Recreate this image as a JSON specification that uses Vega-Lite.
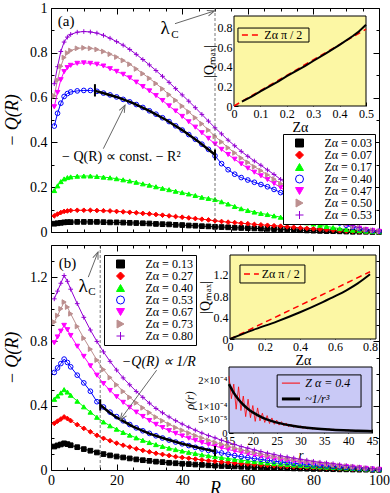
{
"$schema":"https://vega.github.io/schema/vega-lite/v6.json",
"background":"white",
"padding":{"left":3,"top":0,"right":0,"bottom":3},
"config":{
 "font":"Liberation Serif",
 "view":{"stroke":"black","strokeWidth":1},
 "axis":{"labelFont":"Liberation Serif","titleFont":"Liberation Serif","labelColor":"black","titleColor":"black","tickColor":"black","titleFontWeight":"normal","grid":false,"domain":false,"labelFlush":false,"labelOverlap":false,"tickSize":-6,"labelPadding":10,"labelFontSize":14,"zindex":1},
 "legend":{"labelFont":"Liberation Serif"},
 "text":{"font":"Liberation Serif","color":"black"}
},
"datasets":{
 "topMain":[
  {"R":1,"a":0.037,"b":0.072,"c":0.185,"d":0.473,"e":0.559,"f":0.608,"g":0.662},
  {"R":2,"a":0.039,"b":0.080,"c":0.206,"d":0.530,"e":0.623,"f":0.678,"g":0.738},
  {"R":3,"a":0.041,"b":0.087,"c":0.225,"d":0.575,"e":0.680,"f":0.740,"g":0.806},
  {"R":4,"a":0.043,"b":0.092,"c":0.237,"d":0.605,"e":0.716,"f":0.779,"g":0.848},
  {"R":5,"a":0.044,"b":0.094,"c":0.243,"d":0.618,"e":0.734,"f":0.799,"g":0.870},
  {"R":6,"a":0.044,"b":0.096,"c":0.246,"d":0.625,"e":0.744,"f":0.810,"g":0.882},
  {"R":8,"a":0.045,"b":0.097,"c":0.249,"d":0.630,"e":0.753,"f":0.820,"g":0.892},
  {"R":10,"a":0.045,"b":0.097,"c":0.250,"d":0.632,"e":0.755,"f":0.822,"g":0.895},
  {"R":12,"a":0.045,"b":0.097,"c":0.250,"d":0.632,"e":0.753,"f":0.820,"g":0.893},
  {"R":14,"a":0.045,"b":0.096,"c":0.248,"d":0.628,"e":0.749,"f":0.815,"g":0.888},
  {"R":16,"a":0.044,"b":0.095,"c":0.245,"d":0.620,"e":0.741,"f":0.806,"g":0.878},
  {"R":18,"a":0.043,"b":0.094,"c":0.242,"d":0.612,"e":0.729,"f":0.794,"g":0.865},
  {"R":20,"a":0.043,"b":0.092,"c":0.238,"d":0.603,"e":0.717,"f":0.781,"g":0.850},
  {"R":22,"a":0.042,"b":0.090,"c":0.233,"d":0.592,"e":0.704,"f":0.766,"g":0.834},
  {"R":24,"a":0.041,"b":0.088,"c":0.228,"d":0.581,"e":0.688,"f":0.749,"g":0.815},
  {"R":26,"a":0.040,"b":0.086,"c":0.222,"d":0.569,"e":0.669,"f":0.728,"g":0.793},
  {"R":28,"a":0.039,"b":0.083,"c":0.215,"d":0.556,"e":0.649,"f":0.707,"g":0.770},
  {"R":30,"a":0.038,"b":0.081,"c":0.209,"d":0.541,"e":0.630,"f":0.686,"g":0.746},
  {"R":32,"a":0.036,"b":0.078,"c":0.202,"d":0.526,"e":0.609,"f":0.663,"g":0.721},
  {"R":34,"a":0.035,"b":0.075,"c":0.195,"d":0.510,"e":0.587,"f":0.639,"g":0.695},
  {"R":36,"a":0.034,"b":0.072,"c":0.189,"d":0.493,"e":0.563,"f":0.613,"g":0.668},
  {"R":38,"a":0.032,"b":0.069,"c":0.182,"d":0.474,"e":0.540,"f":0.588,"g":0.640},
  {"R":40,"a":0.031,"b":0.066,"c":0.176,"d":0.455,"e":0.516,"f":0.562,"g":0.612},
  {"R":42,"a":0.029,"b":0.063,"c":0.170,"d":0.435,"e":0.492,"f":0.536,"g":0.584},
  {"R":44,"a":0.028,"b":0.060,"c":0.163,"d":0.414,"e":0.468,"f":0.510,"g":0.555},
  {"R":46,"a":0.026,"b":0.057,"c":0.155,"d":0.392,"e":0.443,"f":0.483,"g":0.525},
  {"R":48,"a":0.025,"b":0.054,"c":0.150,"d":0.369,"e":0.418,"f":0.455,"g":0.495},
  {"R":50,"a":0.023,"b":0.050,"c":0.145,"d":0.340,"e":0.393,"f":0.427,"g":0.465},
  {"R":52,"a":0.022,"b":0.047,"c":0.135,"d":0.305,"e":0.369,"f":0.402,"g":0.438},
  {"R":54,"a":0.021,"b":0.044,"c":0.125,"d":0.278,"e":0.346,"f":0.376,"g":0.410},
  {"R":56,"a":0.019,"b":0.042,"c":0.114,"d":0.258,"e":0.325,"f":0.353,"g":0.385},
  {"R":58,"a":0.018,"b":0.039,"c":0.104,"d":0.243,"e":0.304,"f":0.330,"g":0.360},
  {"R":60,"a":0.017,"b":0.037,"c":0.096,"d":0.232,"e":0.285,"f":0.311,"g":0.338},
  {"R":62,"a":0.016,"b":0.034,"c":0.089,"d":0.222,"e":0.267,"f":0.291,"g":0.317},
  {"R":64,"a":0.015,"b":0.032,"c":0.083,"d":0.212,"e":0.251,"f":0.274,"g":0.298},
  {"R":66,"a":0.014,"b":0.030,"c":0.078,"d":0.202,"e":0.234,"f":0.255,"g":0.277},
  {"R":68,"a":0.013,"b":0.028,"c":0.072,"d":0.190,"e":0.217,"f":0.236,"g":0.257},
  {"R":70,"a":0.012,"b":0.026,"c":0.066,"d":0.176,"e":0.199,"f":0.216,"g":0.235},
  {"R":72,"a":0.011,"b":0.023,"c":0.059,"d":0.160,"e":0.179,"f":0.195,"g":0.212},
  {"R":74,"a":0.010,"b":0.021,"c":0.053,"d":0.143,"e":0.160,"f":0.174,"g":0.190},
  {"R":76,"a":0.008,"b":0.018,"c":0.047,"d":0.126,"e":0.142,"f":0.155,"g":0.168},
  {"R":78,"a":0.007,"b":0.016,"c":0.041,"d":0.109,"e":0.124,"f":0.135,"g":0.147},
  {"R":80,"a":0.006,"b":0.014,"c":0.036,"d":0.093,"e":0.107,"f":0.117,"g":0.127},
  {"R":82,"a":0.005,"b":0.012,"c":0.030,"d":0.078,"e":0.091,"f":0.099,"g":0.107},
  {"R":84,"a":0.004,"b":0.010,"c":0.025,"d":0.064,"e":0.074,"f":0.081,"g":0.088},
  {"R":86,"a":0.004,"b":0.008,"c":0.020,"d":0.051,"e":0.059,"f":0.064,"g":0.070},
  {"R":88,"a":0.003,"b":0.006,"c":0.015,"d":0.040,"e":0.045,"f":0.049,"g":0.054},
  {"R":90,"a":0.002,"b":0.004,"c":0.011,"d":0.030,"e":0.034,"f":0.037,"g":0.040},
  {"R":92,"a":0.001,"b":0.003,"c":0.008,"d":0.022,"e":0.024,"f":0.026,"g":0.029},
  {"R":94,"a":0.001,"b":0.002,"c":0.006,"d":0.015,"e":0.017,"f":0.018,"g":0.020},
  {"R":96,"a":0.001,"b":0.001,"c":0.004,"d":0.010,"e":0.011,"f":0.012,"g":0.013},
  {"R":98,"a":0.000,"b":0.001,"c":0.002,"d":0.006,"e":0.007,"f":0.007,"g":0.008},
  {"R":100,"a":0.000,"b":0.000,"c":0.001,"d":0.003,"e":0.003,"f":0.003,"g":0.004}
 ],
 "botMain":[
  {"R":1,"h":0.146,"i":0.290,"j":0.440,"k":0.607,"l":0.792,"m":0.920,"n":1.065},
  {"R":2,"h":0.153,"i":0.304,"j":0.460,"k":0.635,"l":0.828,"m":0.961,"n":1.113},
  {"R":3,"h":0.159,"i":0.317,"j":0.480,"k":0.662,"l":0.864,"m":1.003,"n":1.162},
  {"R":4,"h":0.166,"i":0.330,"j":0.500,"k":0.690,"l":0.900,"m":1.045,"n":1.210},
  {"R":5,"h":0.161,"i":0.320,"j":0.485,"k":0.669,"l":0.873,"m":1.014,"n":1.174},
  {"R":6,"h":0.154,"i":0.307,"j":0.465,"k":0.642,"l":0.837,"m":0.972,"n":1.125},
  {"R":8,"h":0.142,"i":0.282,"j":0.428,"k":0.590,"l":0.770,"m":0.893,"n":1.035},
  {"R":10,"h":0.130,"i":0.259,"j":0.393,"k":0.542,"l":0.707,"m":0.820,"n":0.950},
  {"R":12,"h":0.120,"i":0.238,"j":0.360,"k":0.490,"l":0.648,"m":0.752,"n":0.871},
  {"R":14,"h":0.109,"i":0.216,"j":0.328,"k":0.425,"l":0.590,"m":0.684,"n":0.800},
  {"R":16,"h":0.099,"i":0.197,"j":0.299,"k":0.392,"l":0.538,"m":0.625,"n":0.735},
  {"R":18,"h":0.091,"i":0.182,"j":0.275,"k":0.360,"l":0.495,"m":0.575,"n":0.676},
  {"R":20,"h":0.084,"i":0.167,"j":0.254,"k":0.332,"l":0.456,"m":0.530,"n":0.622},
  {"R":22,"h":0.078,"i":0.154,"j":0.234,"k":0.306,"l":0.421,"m":0.489,"n":0.573},
  {"R":24,"h":0.072,"i":0.143,"j":0.217,"k":0.283,"l":0.390,"m":0.452,"n":0.530},
  {"R":26,"h":0.066,"i":0.132,"j":0.200,"k":0.262,"l":0.360,"m":0.418,"n":0.489},
  {"R":28,"h":0.061,"i":0.122,"j":0.185,"k":0.244,"l":0.333,"m":0.387,"n":0.452},
  {"R":30,"h":0.057,"i":0.113,"j":0.171,"k":0.228,"l":0.308,"m":0.357,"n":0.416},
  {"R":32,"h":0.052,"i":0.104,"j":0.158,"k":0.213,"l":0.284,"m":0.329,"n":0.383},
  {"R":34,"h":0.049,"i":0.097,"j":0.147,"k":0.199,"l":0.264,"m":0.306,"n":0.356},
  {"R":36,"h":0.045,"i":0.090,"j":0.136,"k":0.186,"l":0.245,"m":0.284,"n":0.330},
  {"R":38,"h":0.042,"i":0.083,"j":0.127,"k":0.174,"l":0.228,"m":0.264,"n":0.307},
  {"R":40,"h":0.039,"i":0.078,"j":0.118,"k":0.163,"l":0.212,"m":0.247,"n":0.286},
  {"R":42,"h":0.037,"i":0.073,"j":0.110,"k":0.152,"l":0.198,"m":0.230,"n":0.266},
  {"R":44,"h":0.034,"i":0.068,"j":0.103,"k":0.141,"l":0.185,"m":0.214,"n":0.248},
  {"R":46,"h":0.032,"i":0.063,"j":0.095,"k":0.131,"l":0.171,"m":0.199,"n":0.230},
  {"R":48,"h":0.029,"i":0.058,"j":0.089,"k":0.122,"l":0.159,"m":0.185,"n":0.214},
  {"R":50,"h":0.027,"i":0.054,"j":0.083,"k":0.114,"l":0.149,"m":0.172,"n":0.200},
  {"R":52,"h":0.025,"i":0.050,"j":0.077,"k":0.106,"l":0.138,"m":0.160,"n":0.185},
  {"R":54,"h":0.024,"i":0.047,"j":0.071,"k":0.098,"l":0.128,"m":0.148,"n":0.172},
  {"R":56,"h":0.022,"i":0.043,"j":0.066,"k":0.090,"l":0.118,"m":0.137,"n":0.159},
  {"R":58,"h":0.020,"i":0.040,"j":0.061,"k":0.083,"l":0.109,"m":0.126,"n":0.146},
  {"R":60,"h":0.019,"i":0.037,"j":0.056,"k":0.077,"l":0.101,"m":0.117,"n":0.136},
  {"R":62,"h":0.017,"i":0.034,"j":0.052,"k":0.071,"l":0.093,"m":0.108,"n":0.125},
  {"R":64,"h":0.016,"i":0.031,"j":0.048,"k":0.066,"l":0.086,"m":0.099,"n":0.115},
  {"R":66,"h":0.014,"i":0.029,"j":0.044,"k":0.060,"l":0.078,"m":0.091,"n":0.105},
  {"R":68,"h":0.013,"i":0.026,"j":0.040,"k":0.055,"l":0.072,"m":0.084,"n":0.097},
  {"R":70,"h":0.012,"i":0.024,"j":0.037,"k":0.050,"l":0.066,"m":0.076,"n":0.088},
  {"R":72,"h":0.011,"i":0.022,"j":0.034,"k":0.046,"l":0.060,"m":0.070,"n":0.081},
  {"R":74,"h":0.010,"i":0.020,"j":0.031,"k":0.042,"l":0.055,"m":0.064,"n":0.074},
  {"R":76,"h":0.009,"i":0.018,"j":0.028,"k":0.038,"l":0.050,"m":0.057,"n":0.067},
  {"R":78,"h":0.008,"i":0.017,"j":0.025,"k":0.035,"l":0.045,"m":0.052,"n":0.061},
  {"R":80,"h":0.007,"i":0.015,"j":0.023,"k":0.031,"l":0.041,"m":0.047,"n":0.054},
  {"R":82,"h":0.007,"i":0.013,"j":0.020,"k":0.028,"l":0.036,"m":0.042,"n":0.048},
  {"R":84,"h":0.006,"i":0.012,"j":0.018,"k":0.025,"l":0.032,"m":0.038,"n":0.044},
  {"R":86,"h":0.005,"i":0.011,"j":0.016,"k":0.022,"l":0.029,"m":0.033,"n":0.039},
  {"R":88,"h":0.004,"i":0.009,"j":0.014,"k":0.019,"l":0.024,"m":0.028,"n":0.033},
  {"R":90,"h":0.004,"i":0.008,"j":0.012,"k":0.016,"l":0.021,"m":0.024,"n":0.028},
  {"R":92,"h":0.003,"i":0.006,"j":0.010,"k":0.013,"l":0.017,"m":0.020,"n":0.023},
  {"R":94,"h":0.002,"i":0.005,"j":0.008,"k":0.010,"l":0.014,"m":0.016,"n":0.018},
  {"R":96,"h":0.002,"i":0.004,"j":0.006,"k":0.008,"l":0.010,"m":0.011,"n":0.013},
  {"R":98,"h":0.001,"i":0.002,"j":0.004,"k":0.005,"l":0.006,"m":0.007,"n":0.008},
  {"R":100,"h":0.001,"i":0.001,"j":0.002,"k":0.003,"l":0.004,"m":0.004,"n":0.005}
 ],
 "topFit":[{"R":13.4,"q":0.63},{"R":15,"q":0.624},{"R":20,"q":0.603},{"R":25,"q":0.575},{"R":30,"q":0.541},{"R":35,"q":0.501},{"R":40,"q":0.455},{"R":45,"q":0.403},{"R":50,"q":0.345}],
 "botFit":[{"R":15,"q":0.405},{"R":17.5,"q":0.362},{"R":20,"q":0.327},{"R":25,"q":0.27},{"R":30,"q":0.226},{"R":35,"q":0.193},{"R":40,"q":0.163},{"R":45,"q":0.138},{"R":50,"q":0.116}],
 "insetAblack":[{"z":0.03,"v":0.045},{"z":0.07,"v":0.1},{"z":0.1,"v":0.15},{"z":0.17,"v":0.255},{"z":0.2,"v":0.305},{"z":0.27,"v":0.41},{"z":0.3,"v":0.46},{"z":0.35,"v":0.54},{"z":0.4,"v":0.625},{"z":0.45,"v":0.715},{"z":0.47,"v":0.755},{"z":0.5,"v":0.83}],
 "insetAred":[{"z":0,"v":0},{"z":0.5,"v":0.785}],
 "insetB1black":[{"z":0,"v":0},{"z":0.13,"v":0.166},{"z":0.27,"v":0.33},{"z":0.4,"v":0.5},{"z":0.53,"v":0.69},{"z":0.6,"v":0.8},{"z":0.67,"v":0.92},{"z":0.73,"v":1.04},{"z":0.8,"v":1.21}],
 "insetB1red":[{"z":0,"v":0},{"z":0.8,"v":1.257}],
 "insetB2red":[
  {"r":15.0,"p":0.000215},{"r":15.5,"p":0.000130},{"r":16.0,"p":0.000185},{"r":16.5,"p":0.000090},{"r":17.0,"p":0.000175},{"r":17.5,"p":0.000085},
  {"r":18.0,"p":0.000140},{"r":18.5,"p":0.000062},{"r":19.0,"p":0.000128},{"r":19.5,"p":0.000058},{"r":20.0,"p":0.000104},{"r":20.5,"p":0.000044},
  {"r":21.0,"p":0.000095},{"r":21.5,"p":0.000046},{"r":22.0,"p":0.000075},{"r":22.5,"p":0.000040},{"r":23.0,"p":0.000066},{"r":23.5,"p":0.000036},
  {"r":24.0,"p":0.000057},{"r":24.5,"p":0.000033},{"r":25.0,"p":0.000049},{"r":25.5,"p":0.000030},{"r":26.0,"p":0.000043},{"r":26.5,"p":0.000027},
  {"r":27.0,"p":0.000038},{"r":27.5,"p":0.000024},{"r":28.0,"p":0.000033},{"r":28.5,"p":0.000022},{"r":29.0,"p":0.000029},{"r":29.5,"p":0.000020},
  {"r":30.0,"p":0.000026},{"r":30.5,"p":0.000018},{"r":31.0,"p":0.000023},{"r":31.5,"p":0.000016},{"r":32.0,"p":0.000021},{"r":32.5,"p":0.000015},
  {"r":33.0,"p":0.000019},{"r":33.5,"p":0.000014},{"r":34.0,"p":0.000017},{"r":34.5,"p":0.000013},{"r":35.0,"p":0.000016},{"r":35.5,"p":0.000012},
  {"r":36.0,"p":0.000015},{"r":36.5,"p":0.000011},{"r":37.0,"p":0.000014},{"r":37.5,"p":0.000010},{"r":38.0,"p":0.000013},{"r":38.5,"p":0.000009},
  {"r":39.0,"p":0.000012},{"r":39.5,"p":0.0000085},{"r":40.0,"p":0.000011},{"r":40.5,"p":0.000008},{"r":41.0,"p":0.000010},{"r":41.5,"p":0.0000075},
  {"r":42.0,"p":0.0000095},{"r":42.5,"p":0.000007},{"r":43.0,"p":0.000009},{"r":43.5,"p":0.0000065},{"r":44.0,"p":0.0000085},{"r":44.5,"p":0.000006},{"r":45.0,"p":0.000008}
 ],
 "insetB2black":[{"r":15,"p":0.000185},{"r":16,"p":0.000152},{"r":17,"p":0.000127},{"r":18,"p":0.000107},{"r":19,"p":0.000091},{"r":20,"p":0.000078},{"r":22,"p":0.0000586},{"r":24,"p":0.0000451},{"r":26,"p":0.0000355},{"r":28,"p":0.0000284},{"r":30,"p":0.0000231},{"r":33,"p":0.0000174},{"r":36,"p":0.0000134},{"r":39,"p":0.0000105},{"r":42,"p":0.0000084},{"r":45,"p":0.0000069}]
},
"spacing":4,
"resolve":{"scale":{"stroke":"independent","fill":"independent","shape":"independent"},"legend":{"stroke":"independent","fill":"independent","shape":"independent"}},
"vconcat":[
 {"width":328,"height":224,
  "resolve":{"scale":{"x":"independent","y":"independent"}},
  "layer":[
   {"layer":[
     {"data":{"name":"topMain"},"transform":[{"fold":["a","b","c","d","e","f","g"],"as":["s","q"]}],
      "layer":[
       {"mark":{"type":"line","strokeWidth":1},
        "encoding":{
         "x":{"field":"R","type":"quantitative","scale":{"domain":[0,100],"nice":false,"zero":false},"axis":{"values":[0,20,40,60,80,100],"labels":false,"title":null}},
         "y":{"field":"q","type":"quantitative","scale":{"domain":[0,1],"nice":false,"zero":false},"axis":{"values":[0,0.2,0.4,0.6,0.8,1],"format":"~g","title":"− Q(R)","titleFontSize":18,"titleFontStyle":"italic","titleX":-38.5,"titleBaseline":"middle"}},
         "stroke":{"field":"s","type":"nominal","scale":{"domain":["a","b","c","d","e","f","g"],"range":["#000000","#ff0000","#00ff00","#0000ff","#ff00ff","#bc8f8f","#9400d3"]}}
        }},
       {"mark":{"type":"point","size":22,"strokeWidth":1,"opacity":1},
        "encoding":{
         "x":{"field":"R","type":"quantitative"},
         "y":{"field":"q","type":"quantitative"},
         "stroke":{"field":"s","type":"nominal",
           "legend":{"orient":"none","legendX":232,"legendY":126,"title":null,"fillColor":"white","strokeColor":"black","padding":3,"rowPadding":0,"labelFontSize":12,"labelColor":"black","symbolSize":64,"symbolOffset":7.5,"labelOffset":19,"symbolStrokeWidth":1,"symbolOpacity":1,
           "labelExpr":"datum.label=='a'?'Zα = 0.03':datum.label=='b'?'Zα = 0.07':datum.label=='c'?'Zα = 0.17':datum.label=='d'?'Zα = 0.40':datum.label=='e'?'Zα = 0.47':datum.label=='f'?'Zα = 0.50':'Zα = 0.53'"}},
         "fill":{"field":"s","type":"nominal","legend":null,"scale":{"domain":["a","b","c","d","e","f","g"],"range":["#000000","#ff0000","#00ff00","transparent","#ff00ff","#bc8f8f","transparent"]}},
         "shape":{"field":"s","type":"nominal","legend":null,"scale":{"domain":["a","b","c","d","e","f","g"],"range":["square","diamond","triangle-up","circle","triangle-down","triangle-right","M-1,0H1M0,-1V1"]}}
        }}
      ]},
     {"data":{"name":"topFit"},"mark":{"type":"line","color":"black","strokeWidth":2.5},"encoding":{"x":{"field":"R","type":"quantitative"},"y":{"field":"q","type":"quantitative"}}},
     {"data":{"values":[{}]},"mark":{"type":"rule","strokeDash":[3,2],"color":"#555555","strokeWidth":0.8},"encoding":{"x":{"datum":50,"type":"quantitative"}}},
     {"data":{"values":[{}]},"mark":{"type":"rule","color":"black","strokeWidth":2},"encoding":{"x":{"datum":13.4,"type":"quantitative"},"y":{"datum":0.605,"type":"quantitative"},"y2":{"datum":0.66}}},
     {"data":{"values":[{}]},"mark":{"type":"rule","color":"black","strokeWidth":2},"encoding":{"x":{"datum":50,"type":"quantitative"},"y":{"datum":0.32,"type":"quantitative"},"y2":{"datum":0.368}}},
     {"data":{"values":[{}]},"mark":{"type":"text","text":"(a)","fontSize":15,"align":"center","baseline":"middle"},"encoding":{"x":{"datum":4.6,"type":"quantitative"},"y":{"datum":0.942,"type":"quantitative"}}},
     {"data":{"values":[{}]},"mark":{"type":"text","text":"λ","fontSize":19,"align":"center","baseline":"alphabetic"},"encoding":{"x":{"datum":34.8,"type":"quantitative"},"y":{"datum":0.884,"type":"quantitative"}}},
     {"data":{"values":[{}]},"mark":{"type":"text","text":"C","fontSize":11,"align":"center","baseline":"alphabetic"},"encoding":{"x":{"datum":37.8,"type":"quantitative"},"y":{"datum":0.866,"type":"quantitative"}}},
     {"data":{"values":[{}]},"mark":{"type":"rule","color":"#666666","strokeWidth":1},"encoding":{"x":{"datum":37.8,"type":"quantitative"},"y":{"datum":0.93,"type":"quantitative"},"x2":{"datum":49.85},"y2":{"datum":0.987}}},
     {"data":{"values":[{}]},"mark":{"type":"point","shape":"M-0.7,1.8L0,0L0.7,1.8","angle":72,"size":64,"stroke":"#666666","strokeWidth":1,"fill":"transparent","opacity":1},"encoding":{"x":{"datum":49.85,"type":"quantitative"},"y":{"datum":0.987,"type":"quantitative"}}},
     {"data":{"values":[{}]},"mark":{"type":"text","text":"− Q(R) ∝ const. − R²","fontSize":14,"align":"left","baseline":"middle"},"encoding":{"x":{"datum":3.35,"type":"quantitative"},"y":{"datum":0.335,"type":"quantitative"}}},
     {"data":{"values":[{}]},"mark":{"type":"rule","color":"#666666","strokeWidth":1},"encoding":{"x":{"datum":15.95,"type":"quantitative"},"y":{"datum":0.372,"type":"quantitative"},"x2":{"datum":22.56},"y2":{"datum":0.566}}},
     {"data":{"values":[{}]},"mark":{"type":"point","shape":"M-0.7,1.8L0,0L0.7,1.8","angle":26.6,"size":64,"stroke":"#666666","strokeWidth":1,"fill":"transparent","opacity":1},"encoding":{"x":{"datum":22.56,"type":"quantitative"},"y":{"datum":0.566,"type":"quantitative"}}}
   ]},
   {"data":{"values":[{}]},"mark":{"type":"point","opacity":0},"encoding":{
     "x":{"datum":0,"type":"quantitative","scale":{"domain":[0,100],"nice":false,"zero":false},"axis":{"orient":"top","values":[0,20,40,60,80,100],"labels":false,"title":null}},
     "y":{"datum":0,"type":"quantitative","scale":{"domain":[0,1],"nice":false,"zero":false},"axis":{"orient":"right","values":[0,0.2,0.4,0.6,0.8,1],"labels":false,"title":null}}}},
   {"data":{"values":[{}]},"mark":{"type":"point","opacity":0},"encoding":{
     "x":{"datum":0,"type":"quantitative","scale":{"domain":[0,100],"nice":false,"zero":false},"axis":{"orient":"bottom","values":[5,10,15,25,30,35,45,50,55,65,70,75,85,90,95],"labels":false,"title":null,"tickSize":-3}},
     "y":{"datum":0,"type":"quantitative","scale":{"domain":[0,1],"nice":false,"zero":false},"axis":{"orient":"left","values":[0.1,0.3,0.5,0.7,0.9],"labels":false,"title":null,"tickSize":-3}}}},
   {"data":{"values":[{}]},"mark":{"type":"point","opacity":0},"encoding":{
     "x":{"datum":0,"type":"quantitative","scale":{"domain":[0,100],"nice":false,"zero":false},"axis":{"orient":"top","values":[5,10,15,25,30,35,45,50,55,65,70,75,85,90,95],"labels":false,"title":null,"tickSize":-3}},
     "y":{"datum":0,"type":"quantitative","scale":{"domain":[0,1],"nice":false,"zero":false},"axis":{"orient":"right","values":[0.1,0.3,0.5,0.7,0.9],"labels":false,"title":null,"tickSize":-3}}}},
   {"layer":[
     {"data":{"values":[{}]},"mark":{"type":"rect","fill":"#fcf7a4","stroke":"black","strokeWidth":1},
      "encoding":{
       "x":{"datum":0,"type":"quantitative","scale":{"domain":[0,0.5],"range":[183,315],"nice":false,"zero":false},"axis":{"orient":"bottom","offset":-126,"values":[0,0.1,0.2,0.3,0.4,0.5],"format":"~g","labelFontSize":12,"tickSize":-4,"labelPadding":6,"title":"Zα","titleFontSize":14,"titlePadding":1}},
       "x2":{"datum":0.5},
       "y":{"datum":0,"type":"quantitative","scale":{"domain":[0,0.92],"range":[98,8],"nice":false,"zero":false},"axis":{"orient":"left","offset":-183,"values":[0,0.2,0.4,0.6,0.8],"format":"~g","labelFontSize":12,"tickSize":-4,"labelPadding":6,"title":"|Qₘₐₓ|","titleFontSize":14,"titlePadding":1}},
       "y2":{"datum":0.92}}},
     {"data":{"name":"insetAred"},"mark":{"type":"line","color":"#ff0000","strokeDash":[6,4],"strokeWidth":1.5},"encoding":{"x":{"field":"z","type":"quantitative"},"y":{"field":"v","type":"quantitative"}}},
     {"data":{"name":"insetAblack"},"mark":{"type":"line","color":"black","strokeWidth":2},"encoding":{"x":{"field":"z","type":"quantitative"},"y":{"field":"v","type":"quantitative"}}},
     {"data":{"values":[{}]},"mark":{"type":"rect","fill":"transparent","stroke":"black","strokeWidth":1},"encoding":{"x":{"datum":0.015,"type":"quantitative"},"x2":{"datum":0.284},"y":{"datum":0.654,"type":"quantitative"},"y2":{"datum":0.797}}},
     {"data":{"values":[{}]},"mark":{"type":"rule","color":"#ff0000","strokeDash":[6,4],"strokeWidth":1.5},"encoding":{"x":{"datum":0.03,"type":"quantitative"},"x2":{"datum":0.1},"y":{"datum":0.725,"type":"quantitative"}}},
     {"data":{"values":[{}]},"mark":{"type":"text","text":"Zα π / 2","fontSize":12,"align":"left","baseline":"middle"},"encoding":{"x":{"datum":0.115,"type":"quantitative"},"y":{"datum":0.725,"type":"quantitative"}}}
   ]}
  ]},
 {"width":328,"height":225,
  "resolve":{"scale":{"x":"independent","y":"independent"}},
  "layer":[
   {"layer":[
     {"data":{"name":"botMain"},"transform":[{"fold":["h","i","j","k","l","m","n"],"as":["s","q"]}],
      "layer":[
       {"mark":{"type":"line","strokeWidth":1},
        "encoding":{
         "x":{"field":"R","type":"quantitative","scale":{"domain":[0,100],"nice":false,"zero":false},"axis":{"values":[0,20,40,60,80,100],"format":"d","title":"R","titleFontSize":18,"titleFontStyle":"italic","titleBaseline":"middle","titleY":18,"labelFontSize":14,"labelPadding":9}},
         "y":{"field":"q","type":"quantitative","scale":{"domain":[0,1.4],"nice":false,"zero":false},"axis":{"values":[0,0.4,0.8,1.2],"format":"~g","title":"− Q(R)","titleFontSize":18,"titleFontStyle":"italic","titleX":-38.5,"titleBaseline":"middle"}},
         "stroke":{"field":"s","type":"nominal","scale":{"domain":["h","i","j","k","l","m","n"],"range":["#000000","#ff0000","#00ff00","#0000ff","#ff00ff","#bc8f8f","#9400d3"]}}
        }},
       {"mark":{"type":"point","size":22,"strokeWidth":1,"opacity":1},
        "encoding":{
         "x":{"field":"R","type":"quantitative"},
         "y":{"field":"q","type":"quantitative"},
         "stroke":{"field":"s","type":"nominal",
           "legend":{"orient":"none","legendX":53,"legendY":10,"title":null,"fillColor":"white","strokeColor":"black","padding":3,"rowPadding":0,"labelFontSize":12,"labelColor":"black","symbolSize":64,"symbolOffset":7.5,"labelOffset":19,"symbolStrokeWidth":1,"symbolOpacity":1,
           "labelExpr":"datum.label=='h'?'Zα = 0.13':datum.label=='i'?'Zα = 0.27':datum.label=='j'?'Zα = 0.40':datum.label=='k'?'Zα = 0.53':datum.label=='l'?'Zα = 0.67':datum.label=='m'?'Zα = 0.73':'Zα = 0.80'"}},
         "fill":{"field":"s","type":"nominal","legend":null,"scale":{"domain":["h","i","j","k","l","m","n"],"range":["#000000","#ff0000","#00ff00","transparent","#ff00ff","#bc8f8f","transparent"]}},
         "shape":{"field":"s","type":"nominal","legend":null,"scale":{"domain":["h","i","j","k","l","m","n"],"range":["square","diamond","triangle-up","circle","triangle-down","triangle-right","M-1,0H1M0,-1V1"]}}
        }}
      ]},
     {"data":{"name":"botFit"},"mark":{"type":"line","color":"black","strokeWidth":2.5},"encoding":{"x":{"field":"R","type":"quantitative"},"y":{"field":"q","type":"quantitative"}}},
     {"data":{"values":[{}]},"mark":{"type":"rule","strokeDash":[3,2],"color":"#555555","strokeWidth":0.8},"encoding":{"x":{"datum":15,"type":"quantitative"}}},
     {"data":{"values":[{}]},"mark":{"type":"rule","color":"black","strokeWidth":2},"encoding":{"x":{"datum":15,"type":"quantitative"},"y":{"datum":0.37,"type":"quantitative"},"y2":{"datum":0.44}}},
     {"data":{"values":[{}]},"mark":{"type":"rule","color":"black","strokeWidth":2},"encoding":{"x":{"datum":50,"type":"quantitative"},"y":{"datum":0.085,"type":"quantitative"},"y2":{"datum":0.15}}},
     {"data":{"values":[{}]},"mark":{"type":"text","text":"(b)","fontSize":15,"align":"center","baseline":"middle"},"encoding":{"x":{"datum":5.0,"type":"quantitative"},"y":{"datum":1.289,"type":"quantitative"}}},
     {"data":{"values":[{}]},"mark":{"type":"text","text":"λ","fontSize":19,"align":"center","baseline":"alphabetic"},"encoding":{"x":{"datum":9.76,"type":"quantitative"},"y":{"datum":1.106,"type":"quantitative"}}},
     {"data":{"values":[{}]},"mark":{"type":"text","text":"C","fontSize":11,"align":"center","baseline":"alphabetic"},"encoding":{"x":{"datum":12.5,"type":"quantitative"},"y":{"datum":1.087,"type":"quantitative"}}},
     {"data":{"values":[{}]},"mark":{"type":"rule","color":"#666666","strokeWidth":1},"encoding":{"x":{"datum":11.37,"type":"quantitative"},"y":{"datum":1.2,"type":"quantitative"},"x2":{"datum":14.33},"y2":{"datum":1.356}}},
     {"data":{"values":[{}]},"mark":{"type":"point","shape":"M-0.7,1.8L0,0L0.7,1.8","angle":21.2,"size":64,"stroke":"#666666","strokeWidth":1,"fill":"transparent","opacity":1},"encoding":{"x":{"datum":14.33,"type":"quantitative"},"y":{"datum":1.356,"type":"quantitative"}}},
     {"data":{"values":[{}]},"mark":{"type":"text","text":"−Q(R) ∝ 1/R","fontSize":14,"fontStyle":"italic","align":"left","baseline":"middle"},"encoding":{"x":{"datum":21.6,"type":"quantitative"},"y":{"datum":0.671,"type":"quantitative"}}},
     {"data":{"values":[{}]},"mark":{"type":"rule","color":"#666666","strokeWidth":1},"encoding":{"x":{"datum":32.2,"type":"quantitative"},"y":{"datum":0.621,"type":"quantitative"},"x2":{"datum":21.04},"y2":{"datum":0.311}}},
     {"data":{"values":[{}]},"mark":{"type":"point","shape":"M-0.7,1.8L0,0L0.7,1.8","angle":-143.7,"size":64,"stroke":"#666666","strokeWidth":1,"fill":"transparent","opacity":1},"encoding":{"x":{"datum":21.04,"type":"quantitative"},"y":{"datum":0.311,"type":"quantitative"}}}
   ]},
   {"data":{"values":[{}]},"mark":{"type":"point","opacity":0},"encoding":{
     "x":{"datum":0,"type":"quantitative","scale":{"domain":[0,100],"nice":false,"zero":false},"axis":{"orient":"top","values":[0,20,40,60,80,100],"labels":false,"title":null}},
     "y":{"datum":0,"type":"quantitative","scale":{"domain":[0,1.4],"nice":false,"zero":false},"axis":{"orient":"right","values":[0,0.4,0.8,1.2],"labels":false,"title":null}}}},
   {"data":{"values":[{}]},"mark":{"type":"point","opacity":0},"encoding":{
     "x":{"datum":0,"type":"quantitative","scale":{"domain":[0,100],"nice":false,"zero":false},"axis":{"orient":"bottom","values":[5,10,15,25,30,35,45,50,55,65,70,75,85,90,95],"labels":false,"title":null,"tickSize":-3}},
     "y":{"datum":0,"type":"quantitative","scale":{"domain":[0,1.4],"nice":false,"zero":false},"axis":{"orient":"left","values":[0.1,0.2,0.3,0.5,0.6,0.7,0.9,1.0,1.1,1.3],"labels":false,"title":null,"tickSize":-3}}}},
   {"data":{"values":[{}]},"mark":{"type":"point","opacity":0},"encoding":{
     "x":{"datum":0,"type":"quantitative","scale":{"domain":[0,100],"nice":false,"zero":false},"axis":{"orient":"top","values":[5,10,15,25,30,35,45,50,55,65,70,75,85,90,95],"labels":false,"title":null,"tickSize":-3}},
     "y":{"datum":0,"type":"quantitative","scale":{"domain":[0,1.4],"nice":false,"zero":false},"axis":{"orient":"right","values":[0.1,0.2,0.3,0.5,0.6,0.7,0.9,1.0,1.1,1.3],"labels":false,"title":null,"tickSize":-3}}}},
   {"layer":[
     {"data":{"values":[{}]},"mark":{"type":"rect","fill":"#fcf7a4","stroke":"black","strokeWidth":1},
      "encoding":{
       "x":{"datum":0,"type":"quantitative","scale":{"domain":[0,0.834],"range":[179,325],"nice":false,"zero":false},"axis":{"orient":"bottom","offset":-131,"values":[0,0.2,0.4,0.6,0.8],"format":"~g","labelFontSize":12,"tickSize":-4,"labelPadding":6,"title":"Zα","titleFontSize":14,"titlePadding":1}},
       "x2":{"datum":0.834},
       "y":{"datum":0,"type":"quantitative","scale":{"domain":[0,1.57],"range":[94,10],"nice":false,"zero":false},"axis":{"orient":"left","offset":-179,"values":[0,0.4,0.8,1.2],"format":"~g","labelFontSize":12,"tickSize":-4,"labelPadding":6,"title":"|Qₘₐₓ|","titleFontSize":14,"titlePadding":1}},
       "y2":{"datum":1.57}}},
     {"data":{"name":"insetB1red"},"mark":{"type":"line","color":"#ff0000","strokeDash":[6,4],"strokeWidth":1.5},"encoding":{"x":{"field":"z","type":"quantitative"},"y":{"field":"v","type":"quantitative"}}},
     {"data":{"name":"insetB1black"},"mark":{"type":"line","color":"black","strokeWidth":2,"interpolate":"monotone"},"encoding":{"x":{"field":"z","type":"quantitative"},"y":{"field":"v","type":"quantitative"}}},
     {"data":{"values":[{}]},"mark":{"type":"rect","fill":"transparent","stroke":"black","strokeWidth":1},"encoding":{"x":{"datum":0.057,"type":"quantitative"},"x2":{"datum":0.428},"y":{"datum":1.047,"type":"quantitative"},"y2":{"datum":1.383}}},
     {"data":{"values":[{}]},"mark":{"type":"rule","color":"#ff0000","strokeDash":[6,4],"strokeWidth":1.5},"encoding":{"x":{"datum":0.08,"type":"quantitative"},"x2":{"datum":0.165},"y":{"datum":1.215,"type":"quantitative"}}},
     {"data":{"values":[{}]},"mark":{"type":"text","text":"Zα π / 2","fontSize":12,"align":"left","baseline":"middle"},"encoding":{"x":{"datum":0.181,"type":"quantitative"},"y":{"datum":1.215,"type":"quantitative"}}}
   ]},
   {"layer":[
     {"data":{"values":[{}]},"mark":{"type":"rect","fill":"#c9c9f6","stroke":"black","strokeWidth":1},
      "encoding":{
       "x":{"datum":15,"type":"quantitative","scale":{"domain":[15,45],"range":[178,321],"nice":false,"zero":false},"axis":{"orient":"bottom","offset":-37,"values":[15,20,25,30,35,40,45],"format":"d","labelFontSize":11.5,"tickSize":-4,"labelPadding":6,"title":"r","titleFontSize":13,"titleFontStyle":"italic","titlePadding":2}},
       "x2":{"datum":45},
       "y":{"datum":0,"type":"quantitative","scale":{"domain":[0,0.00025],"range":[188,122],"nice":false,"zero":false},"axis":{"orient":"left","offset":-178,"values":[0,0.00005,0.0001,0.0002],"labelExpr":"datum.value==0?'0':datum.value<0.00007?'5×10⁻⁵':datum.value<0.00015?'1×10⁻⁴':'2×10⁻⁴'","labelFontSize":10.5,"tickSize":-4,"labelPadding":6,"title":"ρ(r)","titleFontSize":12,"titleFontStyle":"italic","titlePadding":1}},
       "y2":{"datum":0.00025}}},
     {"data":{"name":"insetB2red"},"mark":{"type":"line","color":"#ff0000","strokeWidth":0.8},"encoding":{"x":{"field":"r","type":"quantitative"},"y":{"field":"p","type":"quantitative"}}},
     {"data":{"name":"insetB2black"},"mark":{"type":"line","color":"black","strokeWidth":2.5,"interpolate":"monotone"},"encoding":{"x":{"field":"r","type":"quantitative"},"y":{"field":"p","type":"quantitative"}}},
     {"data":{"values":[{}]},"mark":{"type":"rect","fill":"transparent","stroke":"black","strokeWidth":1},"encoding":{"x":{"datum":25.1,"type":"quantitative"},"x2":{"datum":42.7},"y":{"datum":0.0000985,"type":"quantitative"},"y2":{"datum":0.00022}}},
     {"data":{"values":[{}]},"mark":{"type":"rule","color":"#ff0000","strokeWidth":1},"encoding":{"x":{"datum":26.1,"type":"quantitative"},"x2":{"datum":29.9},"y":{"datum":0.000189,"type":"quantitative"}}},
     {"data":{"values":[{}]},"mark":{"type":"rule","color":"black","strokeWidth":3},"encoding":{"x":{"datum":26.1,"type":"quantitative"},"x2":{"datum":29.9},"y":{"datum":0.000129,"type":"quantitative"}}},
     {"data":{"values":[{}]},"mark":{"type":"text","text":"Z α = 0.4","fontSize":12,"fontStyle":"italic","align":"left","baseline":"middle"},"encoding":{"x":{"datum":31,"type":"quantitative"},"y":{"datum":0.000189,"type":"quantitative"}}},
     {"data":{"values":[{}]},"mark":{"type":"text","text":"~1/r³","fontSize":12,"fontStyle":"italic","align":"left","baseline":"middle"},"encoding":{"x":{"datum":31,"type":"quantitative"},"y":{"datum":0.000129,"type":"quantitative"}}}
   ]}
  ]}
]
}
